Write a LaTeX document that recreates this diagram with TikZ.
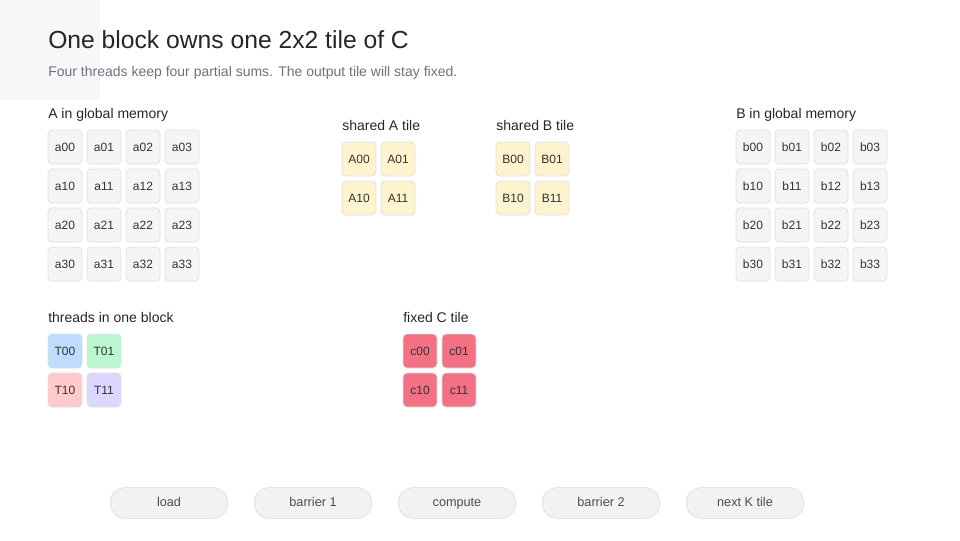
\documentclass[tikz,border=0pt]{standalone}
\usepackage{fontspec}
\setmainfont{Liberation Sans}
\definecolor{cC}{HTML}{F37182}
\definecolor{cT0}{HTML}{BFDBFE}
\definecolor{cT1}{HTML}{BBF7D0}
\definecolor{cT2}{HTML}{FECACA}
\definecolor{cT3}{HTML}{DDD6FE}
\definecolor{cS}{HTML}{FDF3CE}
\definecolor{cSub}{HTML}{6B7280}
\begin{document}
\begin{tikzpicture}[x=0.75pt,y=-0.75pt,
 cell/.style={draw=black!12,line width=0.6pt,rounded corners=3pt,minimum size=25.5pt,inner sep=0pt,font=\fontsize{9}{10}\selectfont,text=black!80},
 gl/.style={cell,fill=black!4},
 sh/.style={cell,fill=cS},
 lab/.style={anchor=base west,inner sep=0pt,font=\fontsize{10.5}{12}\selectfont,text=black!85},
 pill/.style={draw=black!15,fill=black!5,rounded corners=11pt,minimum width=88pt,minimum height=23pt,inner sep=0pt,text height=7pt,text depth=2pt,font=\fontsize{9.5}{11}\selectfont,text=black!70}]
\useasboundingbox (0,0) rectangle (960,540);
\fill[blue!25!black!3] (0,0) rectangle (100,100);
\node[anchor=base west,inner sep=0pt,font=\fontsize{18.5}{21}\selectfont,text=black!85] (title) at (48,48) {One block owns one 2x2 tile of C};
\node[anchor=base west,inner sep=0pt,font=\fontsize{10.5}{12}\selectfont,text=cSub] (sub) at (48,76) {Four threads keep four partial sums. The output tile will stay fixed.};
\node[lab] (la) at (48,118) {A in global memory};
\node[lab] (lb) at (736,118) {B in global memory};
\node[lab] (lsa) at (342,130) {shared A tile};
\node[lab] (lsb) at (496,130) {shared B tile};
\node[lab] (lt) at (48,322) {threads in one block};
\node[lab] (lc) at (403,322) {fixed C tile};
\foreach \r in {0,1,2,3}{\foreach \c in {0,1,2,3}{
 \node[gl] (a\r\c) at ({65+39*\c},{147+39*\r}) {a\r\c};
 \node[gl] (b\r\c) at ({753+39*\c},{147+39*\r}) {b\r\c};}}
\foreach \r in {0,1}{\foreach \c in {0,1}{
 \node[sh] (A\r\c) at ({359+39*\c},{159+39*\r}) {A\r\c};
 \node[sh] (B\r\c) at ({513+39*\c},{159+39*\r}) {B\r\c};
 \node[cell,fill=cC] (c\r\c) at ({420+39*\c},{351+39*\r}) {c\r\c};}}
\node[cell,fill=cT0] (T00) at (65,351) {T00};
\node[cell,fill=cT1] (T01) at (104,351) {T01};
\node[cell,fill=cT2] (T10) at (65,390) {T10};
\node[cell,fill=cT3] (T11) at (104,390) {T11};
\node[pill] (p1) at (169,503) {load};
\node[pill] (p2) at (313,503) {barrier 1};
\node[pill] (p3) at (457,503) {compute};
\node[pill] (p4) at (601,503) {barrier 2};
\node[pill] (p5) at (745,503) {next K tile};
\end{tikzpicture}
\end{document}
